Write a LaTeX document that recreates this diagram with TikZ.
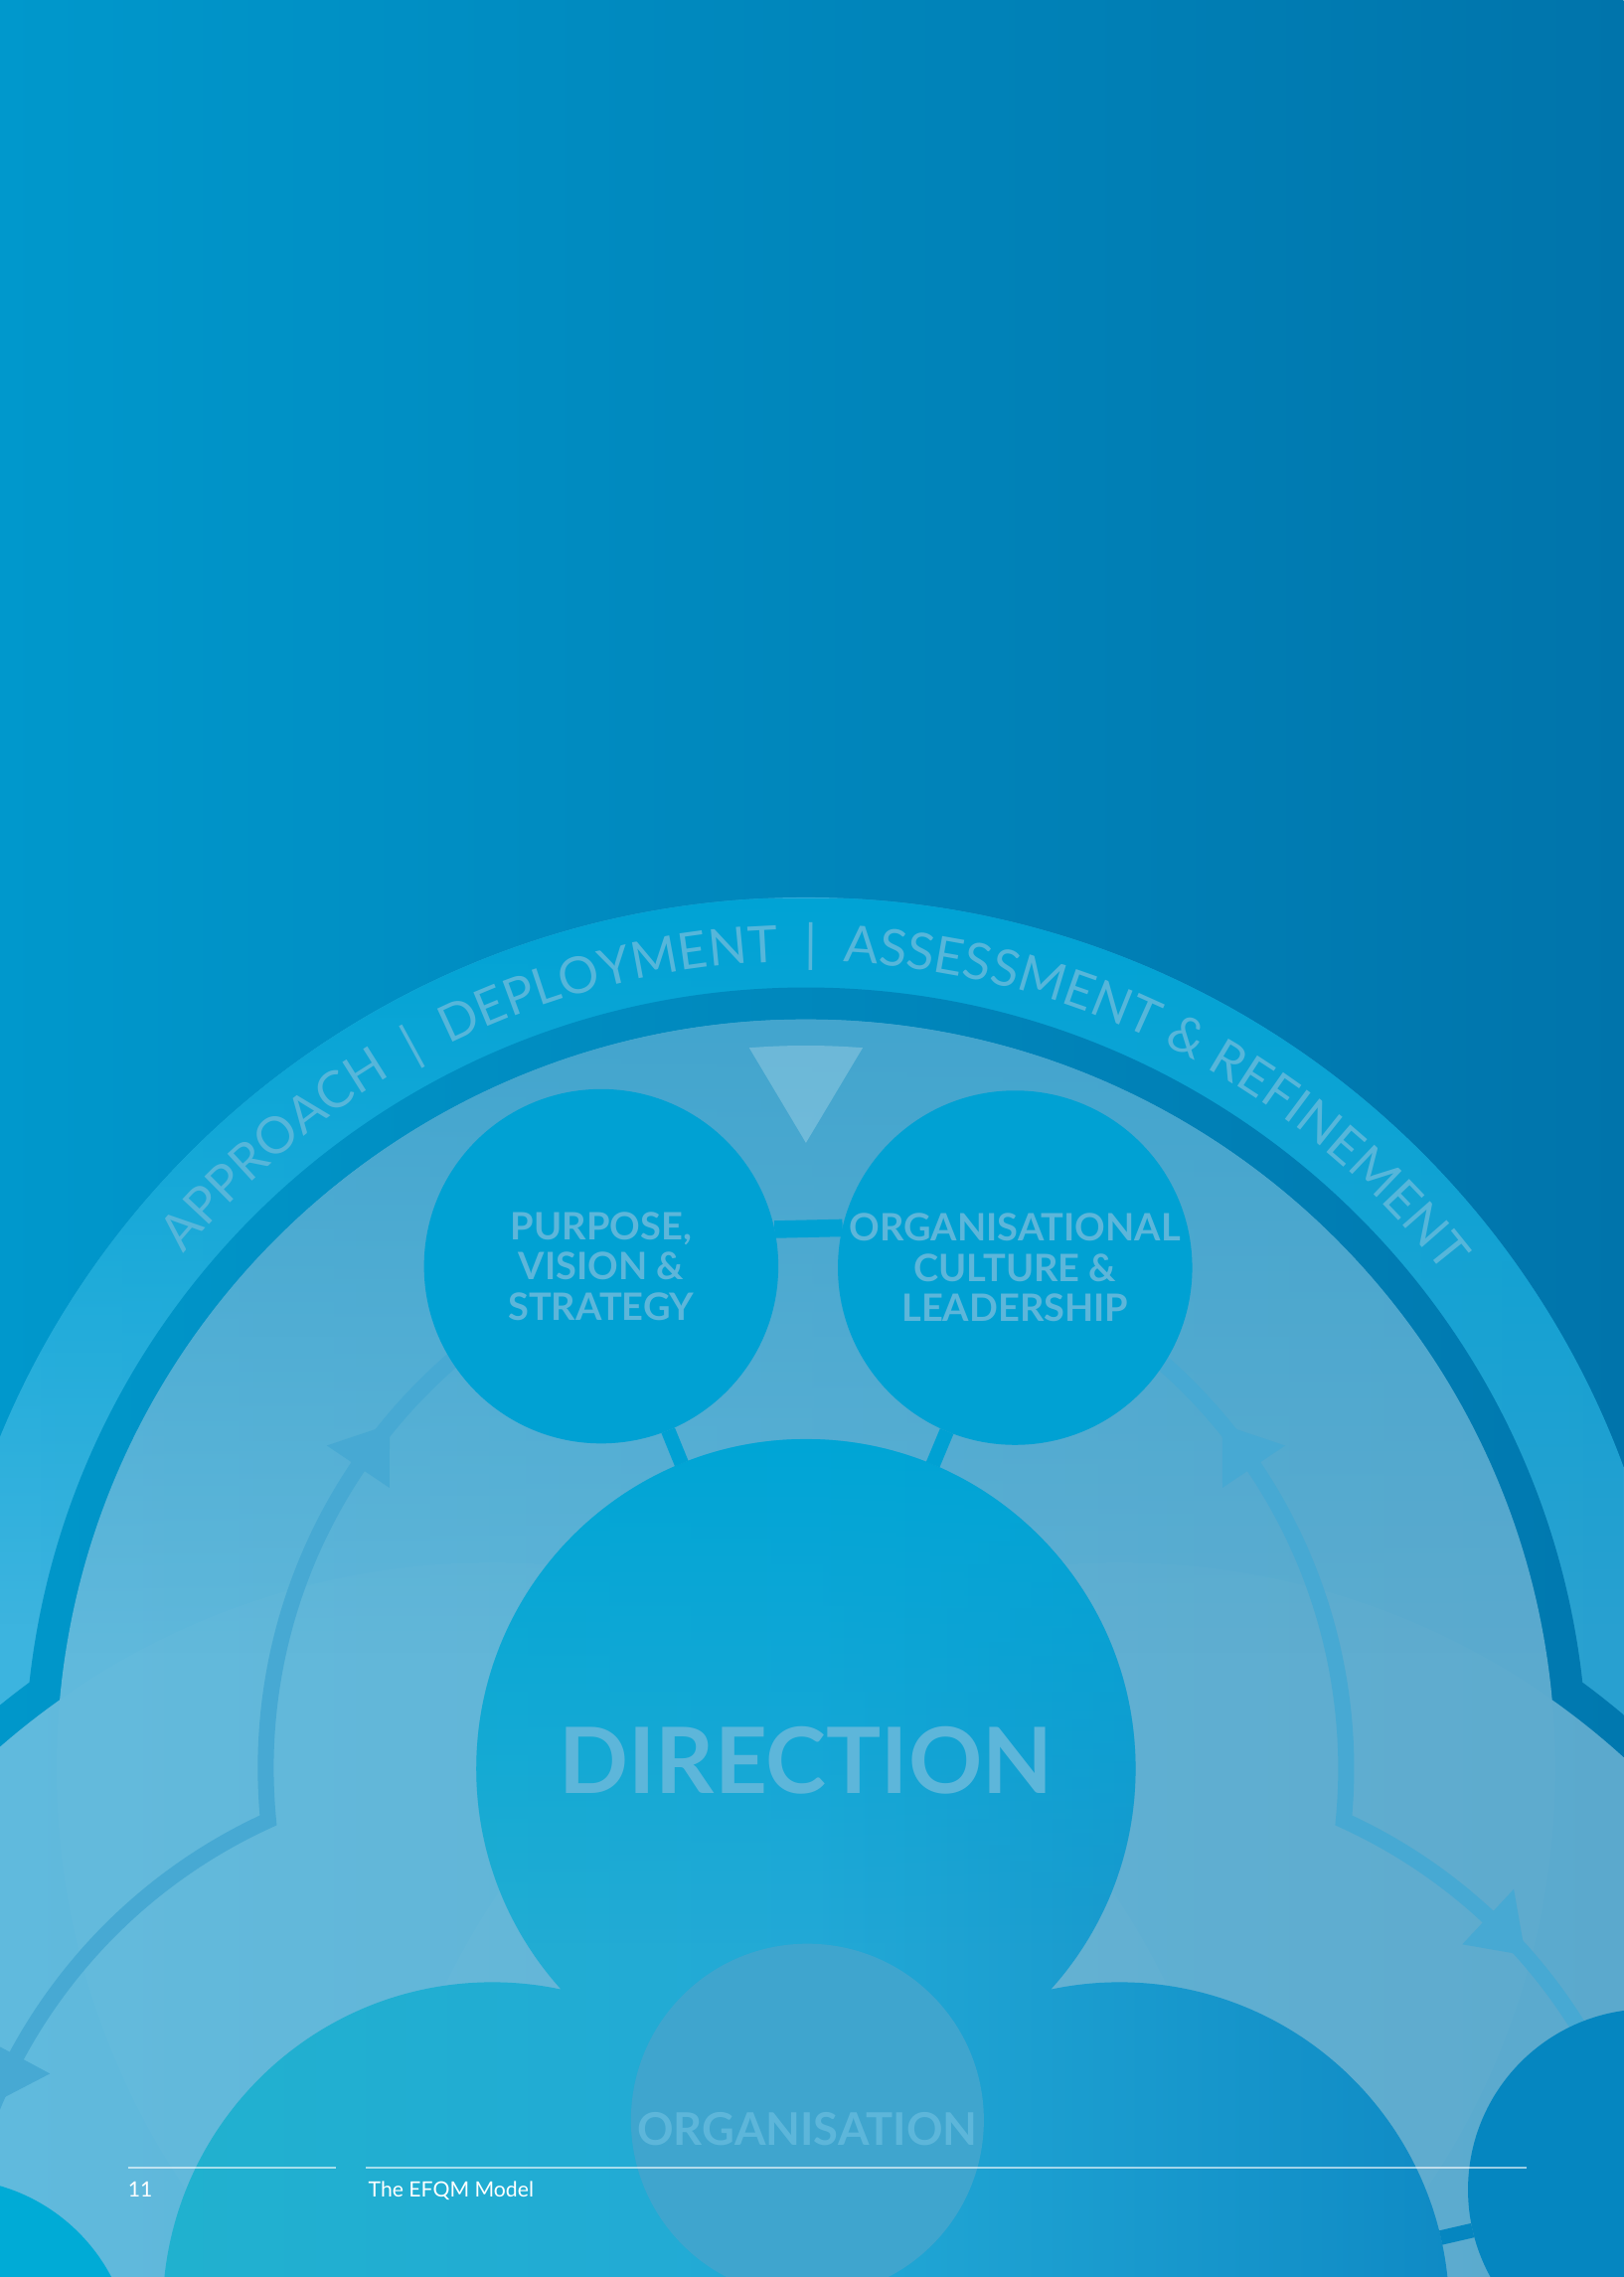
\documentclass[tikz,border=0pt]{standalone}
\usepackage{fontspec}
\setmainfont{Lato}
\usepackage{xcolor}
\usetikzlibrary{calc,positioning,decorations.text,fadings}

\definecolor{bgleft}{HTML}{0098CC}
\definecolor{bgright}{HTML}{0074AB}
\definecolor{bandtop}{HTML}{00A3D5}
\definecolor{bandleft}{HTML}{3CB4DF}
\definecolor{bandright}{HTML}{28A0D0}
\definecolor{ringleft}{HTML}{0097CA}
\definecolor{ringright}{HTML}{0078AF}
\definecolor{innertop}{HTML}{40A4CE}
\definecolor{innerleft}{HTML}{5DB9DD}
\definecolor{innerright}{HTML}{58A8CD}
\definecolor{bigtop}{HTML}{00A5D6}
\definecolor{bigleft}{HTML}{20B3CD}
\definecolor{bigmid}{HTML}{22A9D6}
\definecolor{bigright}{HTML}{0A82C0}
\definecolor{smallfill}{HTML}{00A1D3}
\definecolor{cyanfill}{HTML}{00ABD6}
\definecolor{bluefill}{HTML}{0586C0}
\definecolor{orgfill}{HTML}{3FA5CE}
\definecolor{cyclecol}{HTML}{47A9D3}
\definecolor{labeltxt}{HTML}{5DB6DA}
\definecolor{arctxt}{HTML}{56B6DA}

\newcommand{\arcfont}{\fontsize{35}{35}\selectfont\color{arctxt}}
\newcommand{\arcgap}{\hspace{9pt}}

\tikzfading[name=fade down, top color=transparent!0, bottom color=transparent!100]

\begin{document}
\begin{tikzpicture}[x=1pt, y=1pt,
    bigc/.style={circle, minimum size=454pt, inner sep=0pt, outer sep=0pt},
    smallc/.style={circle, minimum size=244pt, inner sep=0pt, outer sep=0pt, fill=smallfill,
      text=labeltxt, align=center, font=\bfseries\fontsize{26}{27.8}\selectfont},
    stub/.style={line width=10pt},
    cycleline/.style={draw=cyclecol, line width=11pt},
    foot/.style={text=white, inner sep=0pt, font=\fontsize{14.5}{17}\selectfont},
    footrule/.style={draw=white, draw opacity=0.6, line width=1.2pt}]
\useasboundingbox (-555,-350) rectangle (563,1218);
\shade[left color=bgleft, right color=bgright] (-555,-350) rectangle (563,1218);

\coordinate (D) at (0,0);
\coordinate (L) at (-216,-374);
\coordinate (R) at (216,-374);

\begin{scope}
  \clip (D) circle[radius=600] (L) circle[radius=600] (R) circle[radius=600];
  \shade[left color=bandleft, right color=bandright] (-555,-350) rectangle (563,1218);
  \fill[bandtop, path fading=fade down] (-555,100) rectangle (563,600);
\end{scope}
\begin{scope}
  \clip (D) circle[radius=538] (L) circle[radius=538] (R) circle[radius=538];
  \shade[left color=ringleft, right color=ringright] (-555,-350) rectangle (563,1218);
\end{scope}
\begin{scope}
  \clip (D) circle[radius=516] (L) circle[radius=516] (R) circle[radius=516];
  \shade[left color=innerleft, right color=innerright] (-555,-350) rectangle (563,1218);
  \fill[innertop, path fading=fade down] (-555,80) rectangle (563,516);
\end{scope}
\foreach \c in {D,L,R}
  \fill[white, opacity=0.02] (\c) circle[radius=516];

\draw[cycleline] (L) ++(175:372) arc[start angle=175, end angle=114.5, radius=372]
  arc[start angle=185.5, end angle=-5.5, radius=372]
  arc[start angle=65.5, end angle=20, radius=372];
\foreach \c/\b/\t in {D/146/140.4, D/34/39.6, L/151.7/157.2, R/47/41.3}
  \fill[cyclecol, shift={(\c)}] (\b:398) -- (\t:372) -- (\b:346) -- cycle;

\fill[white, opacity=0.22] (94.5:498) arc[start angle=94.5, end angle=85.5, radius=498] -- (90:431) -- cycle;

\begin{scope}
  \clip (D) circle[radius=227] (L) circle[radius=227] (R) circle[radius=227];
  \shade[left color=bigleft, right color=bigright, middle color=bigmid] (-555,-350) rectangle (563,1218);
  \fill[bigtop, path fading=fade down] (-555,-120) rectangle (563,227);
\end{scope}

\node[bigc] (direction) at (D) {};
\node[bigc] (execution) at (L) {};
\node[bigc] (results) at (R) {};
\node[circle, minimum size=243pt, inner sep=0pt, fill=orgfill] (organisation) at (1,-242) {};
\node[text=labeltxt, font=\bfseries\fontsize{31}{31}\selectfont] (orglabel) at (1,-248) {ORGANISATION};
\node[text=labeltxt, font=\bfseries\fontsize{63}{63}\selectfont] (dirlabel) at (0,6) {DIRECTION};

\begin{scope}
  \node[smallc] (purpose) at (-141,346) {PURPOSE,\\VISION \&\\STRATEGY};
  \node[smallc] (culture) at (144,345) {ORGANISATIONAL\\CULTURE \&\\LEADERSHIP};
  \node[smallc, fill=cyanfill, minimum size=253pt] (smallbl) at ($(L)+(185.3:376)$) {};
  \node[smallc, fill=bluefill, minimum size=249pt] (smallbr) at ($(R)+(13:374)$) {};
\end{scope}

\draw[stub, smallfill] (purpose) -- (direction);
\draw[stub, smallfill] (culture) -- (direction);
\draw[line width=12pt, smallfill] (purpose.12.3) -- (culture.167.2);
\draw[stub, bluefill] (smallbr) -- (results);

\path[decorate, decoration={text along path, text align={fit to path},
    text={|\arcfont|APPROACH {\arcgap}{\textbar}{\arcgap} DEPLOYMENT {\arcgap}{\textbar}{\arcgap} ASSESSMENT {\&} REFINEMENT}}]
  (140.4:556) arc[start angle=140.4, end angle=38.4, radius=556];

\draw[footrule] (-467,-274.5) -- (-324,-274.5);
\draw[footrule] (-303,-274.5) -- (496,-274.5);
\node[foot, anchor=base west] (pagenum) at (-467,-295) {11};
\node[foot, anchor=base west] (doctitle) at (-301.5,-295) {The EFQM Model};
\end{tikzpicture}
\end{document}
